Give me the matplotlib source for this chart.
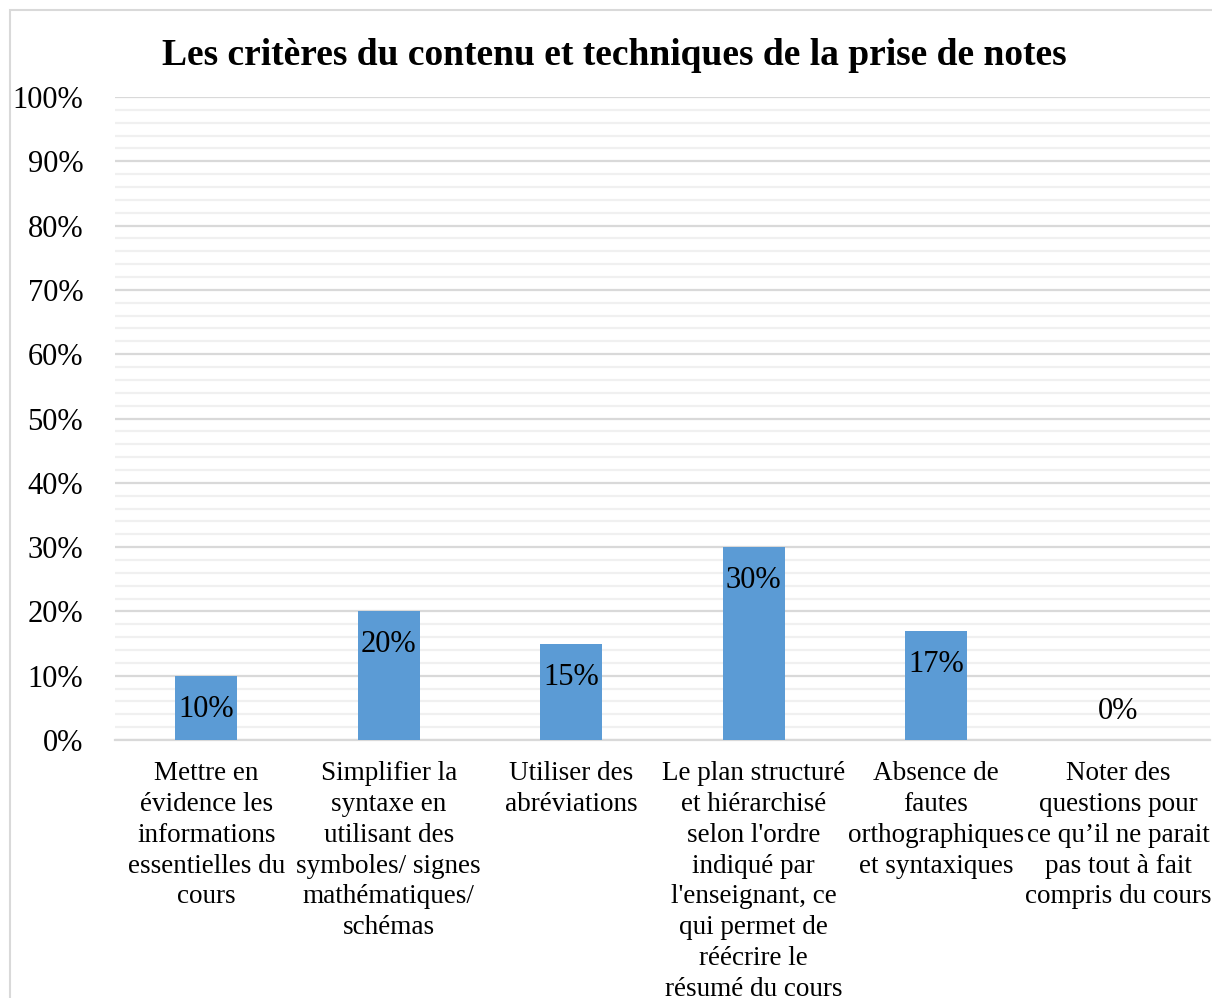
import numpy as np
import matplotlib
matplotlib.use("Agg")
import matplotlib.pyplot as plt
from matplotlib.patches import Rectangle

plt.rcParams['font.family'] = ['Liberation Serif', 'DejaVu Serif']

# data
categories = [
    "Mettre en\névidence les\ninformations\nessentielles du\ncours",
    "Simplifier la\nsyntaxe en\nutilisant des\nsymboles/ signes\nmathématiques/\nschémas",
    "Utiliser des\nabréviations",
    "Le plan structuré\net hiérarchisé\nselon l'ordre\nindiqué par\nl'enseignant, ce\nqui permet de\nréécrire le\nrésumé du cours",
    "Absence de\nfautes\northographiques\net syntaxiques",
    "Noter des\nquestions pour\nce qu\u2019il ne parait\npas tout à fait\ncompris du cours",
]
values = [0.10, 0.20, 0.15, 0.30, 0.17, 0.0]
yticks = np.arange(0, 1.01, 0.1)
title = "Les critères du contenu et techniques de la prise de notes"

fig = plt.figure(figsize=(12.12, 9.98), dpi=100)
ax = fig.add_axes([0.095, 0.2585, 0.903, 0.6443])

x = np.arange(len(categories))
ax.bar(x, values, width=0.34, color="#5B9BD5", zorder=3)

for xi, v in zip(x, values):
    if v > 0:
        ax.text(xi, v - 0.052, f"{v*100:.0f}%", ha="center", va="center",
                fontsize=22, zorder=4)
    else:
        ax.text(xi, v + 0.044, f"{v*100:.0f}%", ha="center", va="center",
                fontsize=22, zorder=4)

ax.set_xlim(-0.5, len(categories) - 0.5)
ax.set_ylim(0, 1)
ax.set_yticks(yticks)
ax.set_yticklabels([f"{t*100:.0f}%" for t in yticks], fontsize=22)
ax.set_yticks(np.arange(0, 1.001, 0.02), minor=True)
ax.yaxis.grid(True, which="major", color="#D9D9D9", linewidth=1.6, zorder=0)
ax.yaxis.grid(True, which="minor", color="#F0F0F0", linewidth=1.6, zorder=0)
ax.tick_params(axis="y", which="both", length=0, pad=23)
ax.set_xticks(x)
ax.set_xticklabels(categories, fontsize=19.5, linespacing=1.31)
ax.tick_params(axis="x", length=0, pad=15)
for s in ["top", "right", "left"]:
    ax.spines[s].set_visible(False)
ax.spines["bottom"].set_color("#D9D9D9")
ax.spines["bottom"].set_linewidth(1.6)

fig.text(0.507, 0.944, title, ha="center", va="center", fontsize=27,
         fontweight="bold")

fig.patches.append(Rectangle((10 / 1212, -0.01), 1.1, 1 - 10 / 998 + 0.01,
                             transform=fig.transFigure, fill=False,
                             edgecolor="#D9D9D9", linewidth=1.5))

fig.savefig("out.png", dpi=100)
